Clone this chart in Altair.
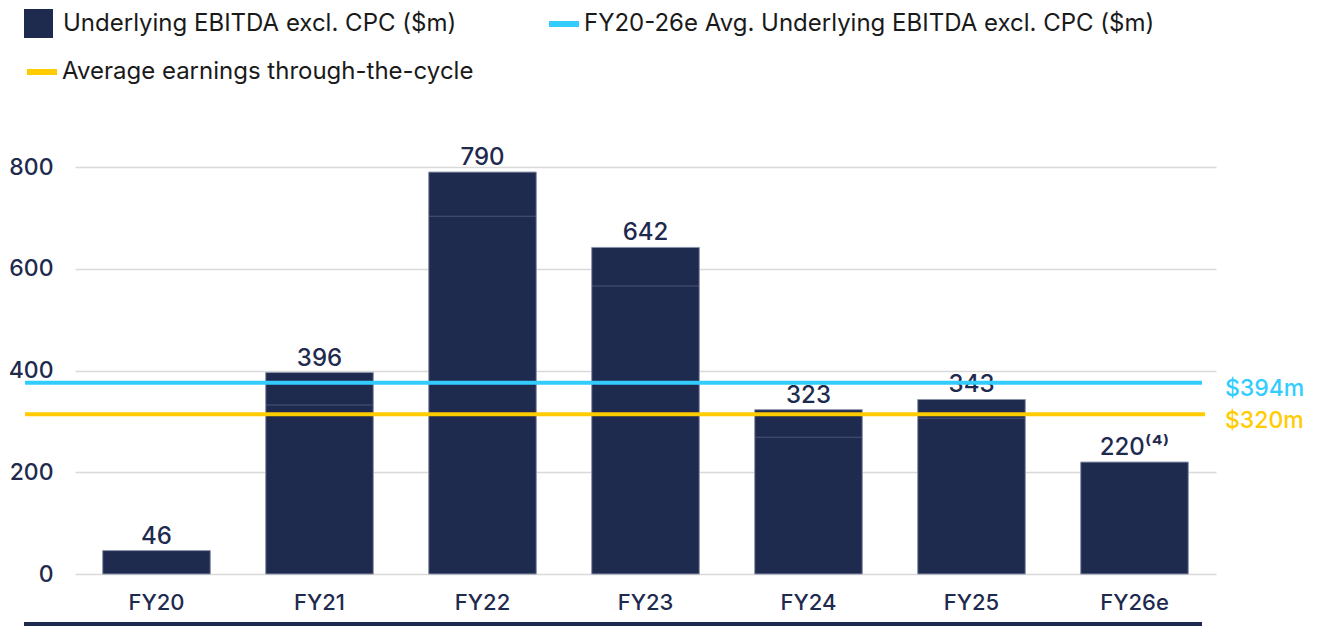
import altair as alt
import pandas as pd

categories = ["FY20", "FY21", "FY22", "FY23", "FY24", "FY25", "FY26e"]
ebitda = [46, 396, 790, 642, 323, 343, 220]
bar_labels = ["46", "396", "790", "642", "323", "343", "220⁽⁴⁾"]

# faint segment boundaries visible inside some bars
split_cats = ["FY21", "FY22", "FY23", "FY24", "FY25"]
split_values = [332, 703, 566, 269, 306]

series_bar = "Underlying EBITDA excl. CPC ($m)"
series_avg = "FY20-26e Avg. Underlying EBITDA excl. CPC ($m)"
series_cycle = "Average earnings through-the-cycle"

avg_value = [376]
avg_label = ["$394m"]
cycle_value = [314]
cycle_label = ["$320m"]

NAVY = "#1E2A4E"
CYAN = "#33CCFF"
YELLOW = "#FFCC00"
GRID = "#D9D9D9"
LEGEND_TXT = "#1A1A1A"
FONT = "Inter"

W, H = 1141, 407

bars_df = pd.DataFrame({"cat": categories, "value": ebitda, "label": bar_labels, "series": series_bar})
split_df = pd.DataFrame({"cat": split_cats, "value": split_values})
avg_df = pd.DataFrame({"value": avg_value, "label": avg_label, "series": series_avg})
cyc_df = pd.DataFrame({"value": cycle_value, "label": cycle_label, "series": series_cycle})

xenc = alt.X("cat:N", sort=categories, title=None,
             scale=alt.Scale(paddingInner=0.34, paddingOuter=0.17),
             axis=alt.Axis(labelFontSize=22, labelFontWeight=500, labelColor=NAVY, labelFont=FONT,
                           labelPadding=18, ticks=False, domain=False, grid=False, labelAngle=0))
yscale = alt.Scale(domain=[0, 800], nice=False)

legend_common = dict(title=None, orient="none", labelFontSize=24, labelFont=FONT,
                     labelColor=LEGEND_TXT, labelLimit=0, padding=0)

bars = alt.Chart(bars_df).mark_bar(stroke="#8A93AB", strokeWidth=1).encode(
    x=xenc,
    y=alt.Y("value:Q", scale=yscale, title=None,
            axis=alt.Axis(values=[0, 200, 400, 600, 800], labelFontSize=23, labelColor=NAVY, labelFont=FONT,
                          labelFontWeight=500, labelPadding=22, ticks=False, domain=False,
                          grid=True, gridColor=GRID, gridWidth=1.5)),
    color=alt.Color("series:N", scale=alt.Scale(domain=[series_bar], range=[NAVY]),
                    legend=alt.Legend(legendX=-51, legendY=-158, symbolType="square", symbolSize=840,
                                      symbolStrokeWidth=0, symbolOpacity=1, labelOffset=10,
                                      **legend_common)),
)

splits = alt.Chart(split_df).mark_tick(color="#56607F", thickness=1, size=107, opacity=0.8).encode(
    x=alt.X("cat:N", sort=categories),
    y=alt.Y("value:Q", scale=yscale),
)

bar_text = alt.Chart(bars_df).mark_text(baseline="alphabetic", dy=-7, fontSize=24, fontWeight=500,
                                        font=FONT, color=NAVY).encode(
    x=alt.X("cat:N", sort=categories),
    y=alt.Y("value:Q", scale=yscale),
    text="label:N",
)

avg_rule = alt.Chart(avg_df).mark_rule(strokeWidth=4).encode(
    y=alt.Y("value:Q", scale=yscale),
    x=alt.value(-50), x2=alt.value(1127),
    color=alt.Color("series:N", scale=alt.Scale(domain=[series_avg], range=[CYAN]),
                    legend=alt.Legend(legendX=471, legendY=-161, symbolType="stroke", symbolSize=900,
                                      symbolStrokeWidth=6, labelOffset=2, **legend_common)),
)
avg_text = alt.Chart(avg_df).mark_text(align="left", baseline="middle", dy=6, fontSize=23,
                                       fontWeight=500, font=FONT, color=CYAN).encode(
    y=alt.Y("value:Q", scale=yscale), x=alt.value(W + 9), text="label:N")

cyc_rule = alt.Chart(cyc_df).mark_rule(strokeWidth=4).encode(
    y=alt.Y("value:Q", scale=yscale),
    x=alt.value(-50), x2=alt.value(1130),
    stroke=alt.Stroke("series:N", scale=alt.Scale(domain=[series_cycle], range=[YELLOW]),
                      legend=alt.Legend(legendX=-51, legendY=-113, symbolType="stroke", symbolSize=900,
                                        symbolStrokeWidth=6, labelOffset=2, **legend_common)),
)
cyc_text = alt.Chart(cyc_df).mark_text(align="left", baseline="middle", dy=7, fontSize=23,
                                       fontWeight=500, font=FONT, color=YELLOW).encode(
    y=alt.Y("value:Q", scale=yscale), x=alt.value(W + 9), text="label:N")

base_line = alt.Chart(bars_df.head(1)).mark_rule(color=NAVY, strokeWidth=4).encode(
    x=alt.value(-51), x2=alt.value(1127), y=alt.value(H + 50))

chart = alt.layer(bars, splits, bar_text, avg_rule, avg_text, cyc_rule, cyc_text, base_line).resolve_scale(
    color="independent"
).properties(
    width=W, height=H,
    autosize=alt.AutoSizeParams(type="none"),
    padding={"left": 67, "top": 159, "right": 108, "bottom": 53},
).configure(font=FONT).configure_view(strokeWidth=0, stroke="transparent")

chart.save("out.html", embed_options={"renderer": "svg", "actions": False})
